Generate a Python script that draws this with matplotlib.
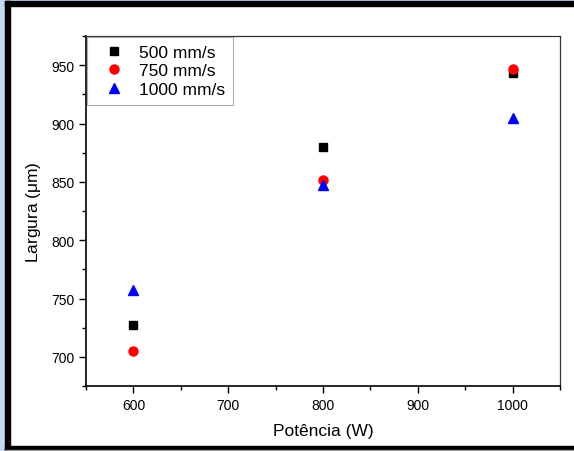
import matplotlib
matplotlib.use("Agg")
import matplotlib.pyplot as plt
from matplotlib.patches import Rectangle
from matplotlib.ticker import MultipleLocator

plt.rcParams['font.family'] = ['Liberation Sans', 'DejaVu Sans']
plt.rcParams['mathtext.fontset'] = 'custom'
plt.rcParams['mathtext.rm'] = 'Liberation Sans'

potencia = [600, 800, 1000]
v500 = [727, 880, 943]
v750 = [705, 852, 947]
v1000 = [757, 847, 905]
labels = ['500 mm/s', '750 mm/s', '1000 mm/s']

W, H = 574, 452
fig = plt.figure(figsize=(W / 100, H / 100), dpi=100)

# frame around the picture (pixel boxes -> figure fractions)
def box(x0, y0, x1, y1, color):
    fig.patches.append(Rectangle((x0 / W, 1 - y1 / H), (x1 - x0) / W, (y1 - y0) / H,
                                 transform=fig.transFigure, color=color, zorder=0))

box(0, 0, W, 2, '#c6d9f1')
box(0, 0, 5, H, '#c6d9f1')
box(5, 2, W, 7, '#000000')
box(5, 2, 10, H, '#000000')
box(5, 447, W, 451, '#000000')
box(5, 451, W, H, '#999999')

ax = fig.add_axes([86 / W, 65 / H, 474 / W, 350 / H])
ax.plot(potencia, v500, 's', color='black', markersize=6, label=labels[0])
ax.plot(potencia, v750, 'o', color='red', markersize=6.5, label=labels[1])
ax.plot(potencia, v1000, '^', color='blue', markersize=7, label=labels[2])

ax.set_xlim(550, 1050)
ax.set_ylim(675, 975)
ax.xaxis.set_major_locator(MultipleLocator(100))
ax.xaxis.set_minor_locator(MultipleLocator(50))
ax.yaxis.set_major_locator(MultipleLocator(50))
ax.yaxis.set_minor_locator(MultipleLocator(25))
ax.tick_params(which='both', direction='out', labelsize=10, width=1)
ax.tick_params(which='major', length=5)
ax.tick_params(which='minor', length=3)

for s in ['left', 'bottom']:
    ax.spines[s].set_linewidth(1.2)
for s in ['top', 'right']:
    ax.spines[s].set_linewidth(0.9)
    ax.spines[s].set_color('#333333')

ax.set_xlabel('Potência (W)', fontsize=12.5, labelpad=8)
ax.set_ylabel(r'Largura ($\mathrm{\mu}$m)', fontsize=12.5, labelpad=6)

leg = ax.legend(loc='upper left', fontsize=12.5, frameon=True, fancybox=False,
                borderaxespad=0.05, handletextpad=0.35, borderpad=0.45,
                labelspacing=0.2, handlelength=2.2)
leg.get_frame().set_edgecolor('#999999')
leg.get_frame().set_linewidth(0.8)

fig.savefig('out.png', dpi=100)
